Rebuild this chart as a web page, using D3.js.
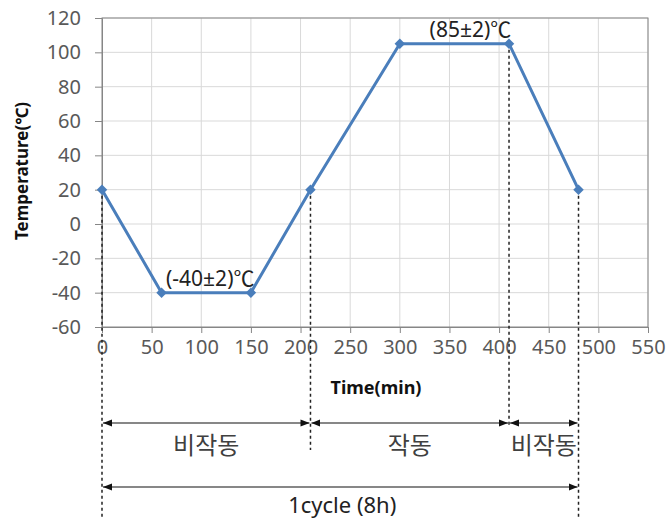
<!DOCTYPE html>
<html>
<head>
<meta charset="utf-8">
<script src="https://cdn.jsdelivr.net/npm/d3@7"></script>
<style>
body { margin: 0; background: #fff; }
text { font-family: "Noto Sans CJK KR", "Noto Sans", sans-serif; }
</style>
</head>
<body>
<svg id="chart" width="667" height="518"></svg>
<script>
// profile points (min, degC)
var times = [0, 60, 150, 210, 300, 410, 480];
var temps = [20, -40, -40, 20, 105, 105, 20];
var xTicks = [0, 50, 100, 150, 200, 250, 300, 350, 400, 450, 500, 550];
var yTicks = [-60, -40, -20, 0, 20, 40, 60, 80, 100, 120];
var guideTimes = [0, 210, 410, 480];
var phases = [[0, 210, "비작동"], [210, 410, "작동"], [410, 480, "비작동"]];
var cycle = [0, 480, "1cycle (8h)"];
var notes = [[60, 150, -40, "(-40±2)"], [300, 410, 105, "(85±2)"]];

var svg = d3.select("#chart");
var x = d3.scaleLinear().domain([0, 550]).range([102, 648]);
var y = d3.scaleLinear().domain([-60, 120]).range([327, 18]);
var grey = "#595959";
var blue = "#4a7ebb";
var latin = "'Noto Sans', sans-serif";

var defs = svg.append("defs");
defs.append("marker").attr("id", "arr").attr("viewBox", "0 0 10 10")
    .attr("refX", 10).attr("refY", 5).attr("markerWidth", 9).attr("markerHeight", 9)
    .attr("markerUnits", "userSpaceOnUse").attr("orient", "auto-start-reverse")
    .append("path").attr("d", "M0,1L10,5L0,9z").attr("fill", "#111");

// grid
svg.append("g").selectAll("line").data(xTicks.slice(1)).enter().append("line")
    .attr("x1", d => x(d)).attr("x2", d => x(d)).attr("y1", y(120)).attr("y2", y(-60))
    .attr("stroke", "#d9d9d9");
svg.append("g").selectAll("line").data(yTicks.slice(1)).enter().append("line")
    .attr("x1", x(0)).attr("x2", x(550)).attr("y1", d => y(d)).attr("y2", d => y(d))
    .attr("stroke", "#d9d9d9");
svg.append("rect").attr("x", x(0)).attr("y", y(120))
    .attr("width", x(550) - x(0)).attr("height", y(-60) - y(120))
    .attr("fill", "none").attr("stroke", "#868686");

// axes
var xAxis = svg.append("g").attr("transform", "translate(0," + y(-60) + ")")
    .call(d3.axisBottom(x).tickValues(xTicks).tickFormat(d => String(d)).tickSize(6).tickPadding(7));
var yAxis = svg.append("g").attr("transform", "translate(" + x(0) + ",0)")
    .call(d3.axisLeft(y).tickValues(yTicks).tickFormat(d => String(d)).tickSize(7).tickPadding(14));
[xAxis, yAxis].forEach(function(a) {
    a.select(".domain").attr("stroke", "#868686");
    a.selectAll(".tick line").attr("stroke", "#868686");
    a.selectAll("text").attr("fill", grey).style("font-size", "20px")
        .style("font-family", latin);
});

svg.append("text").attr("x", 376).attr("y", 394).attr("text-anchor", "middle")
    .style("font-size", "18px").style("font-weight", "bold").style("font-family", latin)
    .attr("fill", "#111").text("Time(min)");
svg.append("text").attr("transform", "translate(28,171) rotate(-90)").attr("text-anchor", "middle")
    .style("font-size", "17px").style("font-weight", "bold").style("font-family", latin)
    .attr("fill", "#111").text("Temperature(℃)");

// dashed guides
var guideTop = {0: 20, 210: 20, 410: 105, 480: 20};
var guideBottom = {0: 518, 210: 450, 410: 425, 480: 518};
svg.append("g").selectAll("line").data(guideTimes).enter().append("line")
    .attr("x1", d => x(d)).attr("x2", d => x(d))
    .attr("y1", d => y(guideTop[d])).attr("y2", d => guideBottom[d])
    .attr("stroke", "#222").attr("stroke-width", 1.5).attr("stroke-dasharray", "3,3");

// profile
var pts = times.map((t, i) => [t, temps[i]]);
svg.append("path").datum(pts)
    .attr("d", d3.line().x(d => x(d[0])).y(d => y(d[1])))
    .attr("fill", "none").attr("stroke", blue).attr("stroke-width", 3);
svg.append("g").selectAll("path").data(pts).enter().append("path")
    .attr("transform", d => "translate(" + x(d[0]) + "," + y(d[1]) + ")")
    .attr("d", d3.symbol(d3.symbolDiamond2, 70)).attr("fill", blue);

// plateau notes, sitting just above each plateau
var noteShift = [4, 16];
notes.forEach(function(n, i) {
    var t = svg.append("text").attr("x", (x(n[0]) + x(n[1])) / 2 + noteShift[i]).attr("y", y(n[2]) - 7)
        .attr("text-anchor", "middle").style("font-size", "21px").attr("fill", "#222");
    t.append("tspan").style("font-family", latin).text(n[3]);
    t.append("tspan").style("font-family", "'Noto Sans CJK KR'").text("℃");
});

// phase arrows
var rowY = 423;
var g = svg.append("g");
phases.forEach(function(p) {
    g.append("line").attr("x1", x(p[0]) + 1).attr("x2", x(p[1]) - 1)
        .attr("y1", rowY).attr("y2", rowY).attr("stroke", "#111").attr("stroke-width", 1.2)
        .attr("marker-start", "url(#arr)").attr("marker-end", "url(#arr)");
    g.append("text").attr("x", (x(p[0]) + x(p[1])) / 2).attr("y", rowY + 31)
        .attr("text-anchor", "middle").style("font-size", "24px").attr("fill", "#404040").text(p[2]);
});
g.append("line").attr("x1", x(cycle[0]) + 1).attr("x2", x(cycle[1]) - 1)
    .attr("y1", 487).attr("y2", 487).attr("stroke", "#111").attr("stroke-width", 1.2)
    .attr("marker-start", "url(#arr)").attr("marker-end", "url(#arr)");
g.append("text").attr("x", (x(cycle[0]) + x(cycle[1])) / 2 + 2).attr("y", 513)
    .attr("text-anchor", "middle").style("font-size", "22px").style("font-family", latin)
    .attr("fill", "#222").text(cycle[2]);
</script>
</body>
</html>
